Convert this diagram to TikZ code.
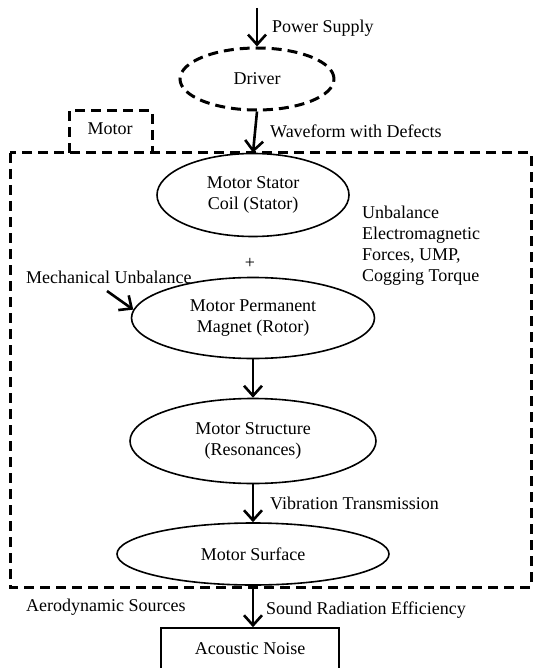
\documentclass[tikz,border=0pt]{standalone}
\usepackage{fontspec}
\setmainfont{Liberation Serif}
\usetikzlibrary{shapes.geometric,arrows.meta}
\tikzset{blob/.style={ellipse,draw,line width=1.6pt,align=center,inner sep=0pt}}
\tikzset{dashblob/.style={ellipse,draw,line width=3pt,dash pattern=on 10pt off 6pt,inner sep=0pt}}
\tikzset{flow/.style={line width=2.6pt,-{Straight Barb[length=10pt,width=18pt,line width=2.6pt]}}}
\tikzset{lbl/.style={inner sep=0pt,anchor=west,align=left}}
\tikzset{fence/.style={line width=3pt,dash pattern=on 10pt off 6pt}}

\begin{document}
\begin{tikzpicture}[x=1pt,y=-1pt,every node/.style={font=\fontsize{18}{21}\selectfont}]
\useasboundingbox (0,0) rectangle (532,668);

% motor housing
\draw[fence] (10,153) rectangle (531,587);
\draw[fence] (69,153) -- (69,111) -- (152,111) -- (152,153);
\node (motor) at (110,129) {Motor};

\path (257,8) coordinate (ps);
\path (107,291) coordinate (mu);

\node[dashblob,minimum width=154pt,minimum height=62pt] (driver) at (257,79) {Driver};
\node[blob,minimum width=192pt,minimum height=83pt] (stator) at (253,195) {Motor Stator\\Coil (Stator)};
\node[blob,minimum width=243pt,minimum height=81pt] (rotor) at (253,318) {Motor Permanent\\Magnet (Rotor)};
\node[blob,minimum width=246pt,minimum height=85pt] (structure) at (253,441) {Motor Structure\\(Resonances)};
\node[blob,minimum width=272pt,minimum height=62pt] (surface) at (253,554) {Motor Surface};
\node[draw,line width=1.6pt,minimum width=178pt,minimum height=42pt] (noise) at (250,649) {Acoustic Noise};

\node (plus) at (250,263) {+};

\draw[flow] (ps) -- (driver.north);
\draw[flow] (driver.south) -- (stator.north);
\draw[flow] (rotor.south) -- (structure.north);
\draw[flow] (structure.south) -- (surface.north);
\draw[flow] (surface.south) -- (noise.north -| surface.south);
\draw[flow] (mu) -- (rotor.176);

\node[lbl] (supply) at (272,28) {Power Supply};
\node[lbl] (wave) at (270,131) {Waveform with Defects};
\node[lbl] (emf) at (362,246) {Unbalance\\Electromagnetic\\Forces, UMP,\\Cogging Torque};
\node[lbl] (mech) at (26,277) {Mechanical Unbalance};
\node[lbl] (vib) at (270,503) {Vibration Transmission};
\node[lbl] (aero) at (26,607) {Aerodynamic Sources};
\node[lbl] (rad) at (266,610) {Sound Radiation Efficiency};

% \draw[flow] (stator.south) -- (rotor.north);

\end{tikzpicture}
\end{document}
